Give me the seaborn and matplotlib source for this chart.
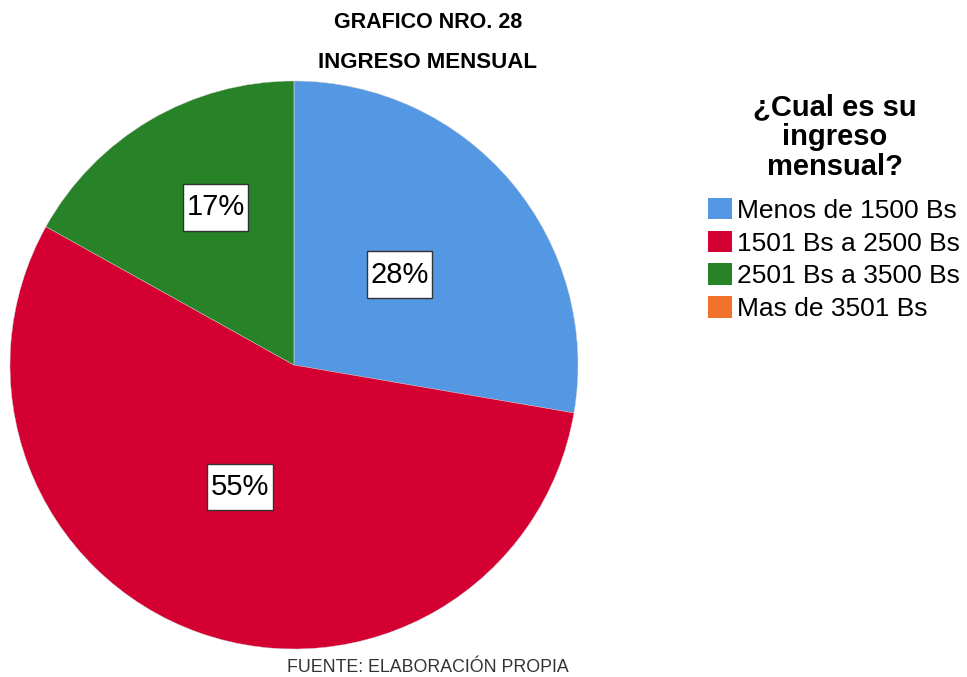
import matplotlib
matplotlib.use("Agg")
import matplotlib.pyplot as plt
from matplotlib.path import Path
import seaborn as sns
import numpy as np

# 数据
categorias = ["Menos de 1500 Bs", "1501 Bs a 2500 Bs", "2501 Bs a 3500 Bs", "Mas de 3501 Bs"]
porcentajes = [27.7, 55.4, 16.9, 0]
colores = ["#5497E3", "#D50032", "#288228", "#F2712A"]
# posición relativa de cada etiqueta (distancia al centro, desvío angular)
dist_etiquetas = [0.49, 0.47, 0.62, 0.5]
desvio_ang = [0.4, -4.5, -3.9, 0]

sns.set_theme(style="white")
plt.rcParams['font.family'] = ['Liberation Sans', 'DejaVu Sans']
plt.rcParams['text.color'] = 'black'


# caja rectangular con más margen vertical que horizontal
def caja(x0, y0, width, height, mutation_size):
    px = 0.12 * mutation_size
    py = 0.32 * mutation_size
    x0, y0 = x0 - px, y0 - py
    x1, y1 = x0 + width + 2 * px, y0 + height + 2 * py
    return Path([(x0, y0), (x1, y0), (x1, y1), (x0, y1), (x0, y0)],
                [Path.MOVETO, Path.LINETO, Path.LINETO, Path.LINETO, Path.CLOSEPOLY])


fig = plt.figure(figsize=(9.67, 6.77), dpi=100)
ax = fig.add_axes([10 / 967, 28 / 677, 568 / 967, 568 / 677])

wedges, _ = ax.pie(porcentajes, colors=colores, startangle=90, counterclock=False,
                   wedgeprops=dict(linewidth=0.3, edgecolor="#cccccc"))
ax.set_xlim(-1, 1)
ax.set_ylim(-1, 1)
ax.set_aspect("equal")
ax.axis("off")

# etiquetas de porcentaje
for w, p, d, da in zip(wedges, porcentajes, dist_etiquetas, desvio_ang):
    if p == 0:
        continue
    ang = np.deg2rad((w.theta1 + w.theta2) / 2 + da)
    ax.text(d * np.cos(ang), d * np.sin(ang), f"{p:.0f}%", ha="center", va="center",
            fontsize=21, color="black",
            bbox=dict(boxstyle=caja, fc="white", ec="#333333", lw=1))

# títulos
fig.text(428 / 967, 1 - 22 / 677, "GRAFICO NRO. 28", ha="center", va="center",
         fontsize=15.5, fontweight="bold")
fig.text(427 / 967, 1 - 63 / 677, "INGRESO MENSUAL", ha="center", va="center",
         fontsize=16, fontweight="bold")
fig.text(428 / 967, 1 - 668 / 677, "FUENTE: ELABORACIÓN PROPIA", ha="center", va="center",
         fontsize=12.8, color="#333333")

# título de la leyenda
fig.text(835 / 967, 1 - 137 / 677, "¿Cual es su\ningreso\nmensual?", ha="center", va="center",
         multialignment="center", fontsize=21, fontweight="bold", linespacing=1.07)

# leyenda
leg = fig.legend(wedges, categorias, loc="upper left", bbox_to_anchor=(708 / 967, 1 - 198 / 677),
                 frameon=False, fontsize=19, handlelength=0.91, handleheight=0.87,
                 handletextpad=0.2, labelspacing=0.3, borderaxespad=0, borderpad=0)
for h in leg.legend_handles:
    h.set_edgecolor("none")

fig.savefig("out.png", dpi=100)
